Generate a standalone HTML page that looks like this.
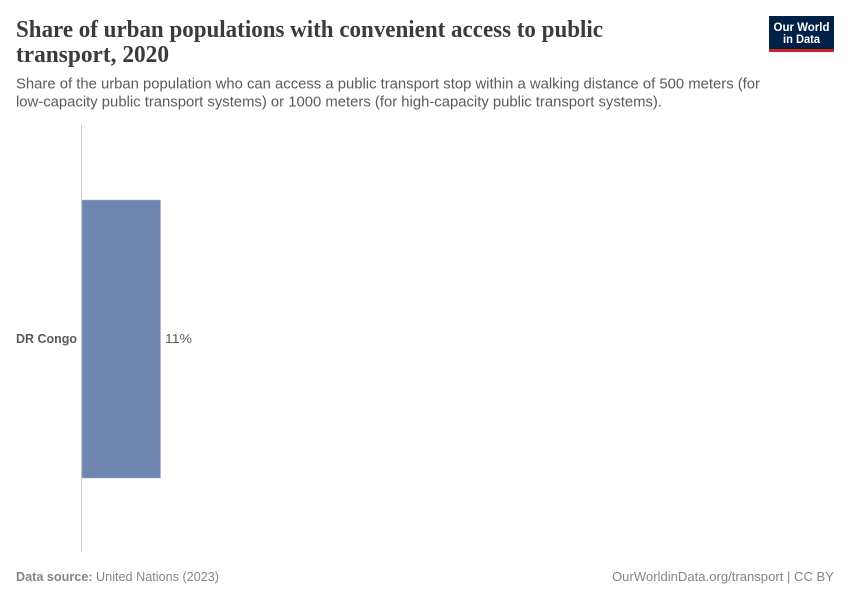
<!DOCTYPE html>
<html lang="en">
<head>
<meta charset="utf-8">
<title>Share of urban populations with convenient access to public transport, 2020</title>
<style>
  html, body { margin: 0; padding: 0; background: #fff; }
  svg { display: block; }
  text { font-family: "Liberation Sans", sans-serif; }
  .serif { font-family: "Liberation Serif", serif; font-weight: 700; }
</style>
</head>
<body>
<svg id="chart" xmlns="http://www.w3.org/2000/svg" width="850" height="600" viewBox="0 0 850 600">
  <rect width="850" height="600" fill="#ffffff"/>
  <g>
    <text class="serif" x="16" y="37" font-size="24" fill="#3b3b3b" textLength="587" lengthAdjust="spacingAndGlyphs">Share of urban populations with convenient access to public</text>
    <text class="serif" x="16" y="62" font-size="24" fill="#3b3b3b" textLength="153" lengthAdjust="spacingAndGlyphs">transport, 2020</text>
  </g>
  <g>
    <text x="16" y="88.5" font-size="14.5" fill="#5b5b5b" textLength="744" lengthAdjust="spacingAndGlyphs">Share of the urban population who can access a public transport stop within a walking distance of 500 meters (for</text>
    <text x="16" y="106.5" font-size="14.5" fill="#5b5b5b" textLength="646" lengthAdjust="spacingAndGlyphs">low-capacity public transport systems) or 1000 meters (for high-capacity public transport systems).</text>
  </g>
  <g>
    <rect x="769" y="16" width="65" height="36" fill="#002147"/>
    <rect x="769" y="49" width="65" height="3" fill="#ce261e"/>
    <text x="801.5" y="31" font-size="12" font-weight="700" fill="#ffffff" text-anchor="middle" textLength="56" lengthAdjust="spacingAndGlyphs">Our World</text>
    <text x="801.5" y="43" font-size="12" font-weight="700" fill="#ffffff" text-anchor="middle" textLength="37" lengthAdjust="spacingAndGlyphs">in Data</text>
  </g>
  <g id="plot"></g>
  <text x="16" y="581" font-size="13" fill="#858585" textLength="203" lengthAdjust="spacingAndGlyphs"><tspan font-weight="700">Data source:</tspan> United Nations (2023)</text>
  <text x="834" y="581" font-size="13" fill="#858585" text-anchor="end" textLength="222" lengthAdjust="spacingAndGlyphs">OurWorldinData.org/transport | CC BY</text>
</svg>
<script>
const categories = ['DR Congo'];
const seriesValues = [11];
const valueLabels = ['11%'];

const SVG_NS = 'http://www.w3.org/2000/svg';
const plot = document.getElementById('plot');
const axisTop = 125, axisBottom = 552, plotLeft = 82;
const bandTop = 126, bandBottom = 552;
const pxPerPercent = 78.5 / 11;
const barShare = 0.6526;

function xScale(v) { return plotLeft + v * pxPerPercent; }
function bandCenter(i) {
  const band = (bandBottom - bandTop) / categories.length;
  return bandTop + band * (i + 0.5);
}
function bandHeight() {
  return (bandBottom - bandTop) / categories.length * barShare;
}
function make(tag, attrs) {
  const el = document.createElementNS(SVG_NS, tag);
  for (const k in attrs) el.setAttribute(k, attrs[k]);
  return el;
}

const axisLine = make('line', { x1: plotLeft - 0.5, x2: plotLeft - 0.5, y1: axisTop, y2: axisBottom, stroke: '#d0d0d0', 'stroke-width': 1 });


plot.appendChild(axisLine);

categories.forEach(function (name, i) {
  const cy = bandCenter(i);
  const h = bandHeight();
  const x1 = xScale(seriesValues[i]);

  const bar = make('rect', { x: plotLeft, y: cy - h / 2, width: x1 - plotLeft, height: h, fill: '#6f87b0', stroke: '#a3b2cd', 'stroke-width': 0.5 });
  
  
  plot.appendChild(bar);

  const label = make('text', { x: plotLeft - 5, y: cy + 4, 'font-size': 13, 'font-weight': 700, fill: '#5b5b5b', 'text-anchor': 'end', textLength: 61, lengthAdjust: 'spacingAndGlyphs' });
  
  
  label.textContent = name;
  plot.appendChild(label);

  const value = make('text', { x: x1 + 4.5, y: cy + 4, 'font-size': 13, fill: '#5b5b5b', textLength: 27, lengthAdjust: 'spacingAndGlyphs' });
  
  
  value.textContent = valueLabels[i];
  plot.appendChild(value);
});
</script>
</body>
</html>
